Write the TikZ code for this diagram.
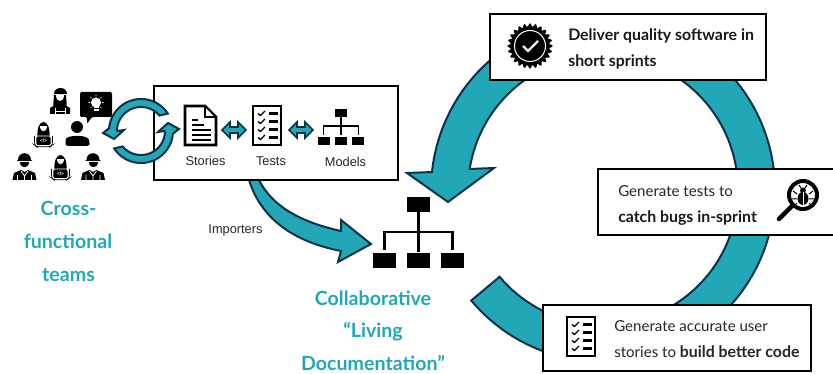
\documentclass[tikz,border=0pt]{standalone}
\usepackage{fontspec}
\setmainfont{Lato}
\newfontfamily\arialf{Liberation Sans}
\definecolor{teal1}{HTML}{22A7B6}
\definecolor{navy1}{HTML}{0C3148}
\tikzset{
  x=0.75pt,y=-0.75pt,
  ring/.style={fill=teal1,draw=navy1,line width=1.5pt,line join=miter},
  ringthin/.style={fill=teal1,draw=navy1,line width=1.5pt,line join=miter},
  panel/.style={draw=black,line width=1.5pt,fill=white,rectangle,inner sep=0pt},
  teamlabel/.style={font=\fontsize{14.7}{15}\selectfont\bfseries,text=teal1,anchor=base},
  smalllabel/.style={font=\arialf\fontsize{9.6}{10}\selectfont,text=black!85,anchor=base},
  boxtext/.style={font=\fontsize{11.3}{12}\selectfont,text=black!85,anchor=base west,inner sep=0pt},
  boxbold/.style={font=\fontsize{11.9}{12}\selectfont\bfseries,text=black!90,anchor=base west,inner sep=0pt},
  wline/.style={draw=white,line width=0.6pt},
  wkr/.pic={
    \fill[black] (-6.5,-3) .. controls (-6.5,-12) and (6.5,-12) .. (6.5,-3) -- (8,-2) -- (-8,-2) -- cycle;
    \fill[black] (-4.5,-1) -- (4.5,-1) .. controls (4.5,6) and (-4.5,6) .. (-4.5,-1) -- cycle;
    \fill[black] (-12,17) -- (-10.5,10) -- (-3.5,7) -- (0,9) -- (3.5,7) -- (10.5,10) -- (12,17) -- cycle;
    \draw[wline] (-7,12) -- (-7,17) (7,12) -- (7,17) (-3.5,8) -- (0,13) -- (3.5,8) (0,13) -- (0,17);
  },
  wmn/.pic={
    \fill[black] (-6,9) .. controls (-7.5,-11) and (7.5,-11) .. (6,9) -- cycle;
    \fill[white] (-3.6,-2) -- (3.6,-2) .. controls (3.6,5) and (-3.6,5) .. (-3.6,-2) -- cycle;
    \filldraw[fill=black,draw=white,line width=0.5pt,rounded corners=1.5pt] (-7.5,8) rectangle (7.5,17.5);
    \draw[black,line width=0.5pt,rounded corners=2pt] (-9,8) -- (-9,17) -- (-7,18.7) -- (7,18.7) -- (9,17) -- (9,8);
    \node[text=white,font=\arialf\fontsize{3.6}{4}\selectfont\bfseries,inner sep=0pt] at (0,13) {</>};
  },
  hatw/.pic={
    \fill[black] (-6.5,9) .. controls (-7,5) and (-6,0) .. (-6,-3) -- (6,-3) .. controls (6,0) and (7,5) .. (6.5,9) -- cycle;
    \fill[black] (-6.5,-4) .. controls (-6.5,-12) and (6.5,-12) .. (6.5,-4) -- cycle;
    \fill[white] (-4,-3) -- (4,-3) .. controls (4,5) and (-4,5) .. (-4,-3) -- cycle;
    \fill[black] (-10,16) -- (-10,10) -- (-4,6.5) -- (4,6.5) -- (10,10) -- (10,16) -- cycle;
    \draw[wline] (-5,10) -- (-5,16) (5,10) -- (5,16) (-5,13) -- (5,13);
  },
  chk/.pic={
    \draw[draw=black,line width=2pt,fill=white] (0,0) rectangle (28,39);
    \foreach \yy in {7.5,15.5,23.5,31.5}{
      \draw[black,line width=0.95pt] (5,\yy) -- (7.5,\yy+2) -- (12,\yy-2.5);
      \fill[black] (16,\yy-1.3) rectangle (24.5,\yy+1.3);
    }
  }
}
\begin{document}
\begin{tikzpicture}
\useasboundingbox (0,0) rectangle (833,374);

% large cycle
\draw[ring]
  plot[domain=140:-174,samples=120] ({603+172*cos(\x)},{190+172*sin(\x)})
  -- (407,173) -- (448,202) -- (494,168) -- (470,169)
  -- plot[domain=-171:140,samples=120] ({603+135*cos(\x)},{190+135*sin(\x)})
  -- cycle;

% importers arrow
\draw[ring] (249,180) .. controls (259,212) and (285,240) .. (341,251)
  -- (338,262) -- (371,244) -- (341,220) -- (341,231)
  .. controls (300,222) and (272,206) .. (259,180) -- cycle;

% panels
\node[panel,minimum width=276*0.75pt,minimum height=66*0.75pt,anchor=north west] (deliver) at (489,13) {};
\draw[draw=black,line width=1.5pt,fill=white] (834,169) -- (598,169) -- (598,235) -- (834,235);
\node[panel,minimum width=268*0.75pt,minimum height=66*0.75pt,anchor=north west] (stories) at (542,304) {};
\node[panel,minimum width=244*0.75pt,minimum height=94*0.75pt,anchor=north west] (artifacts) at (153,85) {};

% small cycle
\draw[ringthin]
  plot[domain=-33:-175,samples=50] ({141+32*cos(\x)},{131+32*sin(\x)})
  -- (103,133) -- (114,139) -- (124,130) -- (117.5,131)
  -- plot[domain=-175:-40,samples=50] ({141+24*cos(\x)},{131+24*sin(\x)}) -- cycle;
\draw[ringthin]
  plot[domain=147:5,samples=50] ({141+32*cos(\x)},{131+32*sin(\x)})
  -- (179,129) -- (168,123) -- (158,132) -- (164.5,131)
  -- plot[domain=5:140,samples=50] ({141+24*cos(\x)},{131+24*sin(\x)}) -- cycle;

% double arrows
\foreach \xa/\xb in {222/246,289/313}{
  \draw[ringthin,line width=1.2pt] (\xa,130) -- (\xa+8,122) -- (\xa+8,127) -- (\xb-8,127) -- (\xb-8,122) -- (\xb,130) -- (\xb-8,138) -- (\xb-8,133) -- (\xa+8,133) -- (\xa+8,138) -- cycle;
}

% document icon
\draw[draw=black,line width=2pt,fill=white,line join=miter] (185,106) -- (205,106) -- (216,117) -- (216,145) -- (185,145) -- cycle;
\fill[black] (204,105) -- (217,118) -- (204,118) -- cycle;
\fill[white] (206,108.5) -- (213.5,116) -- (206,116) -- cycle;
\fill[black] (192,119) rectangle (198,121.5);
\fill[black] (192,124) rectangle (204,126.5);
\foreach \yy in {129,134,139}{\fill[black] (192,\yy) rectangle (211,\yy+2.5);}

% checklist icon
\pic (tests) at (253,106) {chk};

% small hierarchy
\fill[black] (335,109) rectangle (347,117);
\draw[black,line width=1pt] (341,117) -- (341,135) (323.5,135) -- (323.5,126) -- (358.5,126) -- (358.5,135);
\foreach \xa in {318,335,352}{\fill[black] (\xa,137) rectangle (\xa+12,145);}

% labels
\node[smalllabel] (lblstories) at (205.5,165.5) {Stories};
\node[smalllabel] (lbltests) at (271,165.5) {Tests};
\node[smalllabel] (lblmodels) at (345.5,166.5) {Models};
\node[smalllabel] (lblimp) at (235.5,233.5) {Importers};

% big hierarchy
\fill[black] (407,197) rectangle (430,212);
\draw[black,line width=2.2pt,line join=miter] (418.5,212) -- (418.5,252) (384.5,250) -- (384.5,232) -- (452.5,232) -- (452.5,250);
\foreach \xa in {373,407,441}{\fill[black] (\xa,253) rectangle (\xa+23,268);}

% team captions
\node[teamlabel] (t1) at (68.5,216) {Cross-};
\node[teamlabel] (t2) at (68,249) {functional};
\node[teamlabel] (t3) at (68.5,282) {teams};
\node[teamlabel] (c1) at (373,306) {Collaborative};
\node[teamlabel] (c2) at (373,338) {“Living};
\node[teamlabel] (c3) at (373,371) {Documentation”};

% box texts
\node[boxbold] (d1) at (568,41) {Deliver quality software in};
\node[boxbold] (d2) at (568,67) {short sprints};
\node[boxtext] (g1) at (618,197) {Generate tests to};
\node[boxbold] (g2) at (618,223) {catch bugs in-sprint};
\node[boxtext] (s1) at (614,332) {Generate accurate user};
\node[boxtext] (s2) at (614,358) {stories to {\fontsize{11.9}{12}\selectfont\bfseries build better code}};

% badge
\fill[black] plot[domain=0:360,samples=217] ({530+(21+1.6*cos(24*\x))*cos(\x)},{46+(21+1.6*cos(24*\x))*sin(\x)}) -- cycle;
\draw[white,line width=0.75pt] (530,46) circle (15.5);
\draw[white,line width=1.8pt] (523,46) -- (528,51) -- (538,41);

% magnifier with bug
\draw[black,line width=3pt,fill=white] (803,195) circle (14);
\draw[black,line width=3.4pt,line cap=round] (792,206) -- (779,219);
\fill[black] (803,198.5) ellipse (5.5 and 6.5);
\fill[black] (803,190.5) circle (3);
\draw[white,line width=0.5pt] (803,192) -- (803,205);
\draw[black,line width=0.75pt] (797,194) -- (793,191) (797,199) -- (792,199) (797,203) -- (793,207)
  (809,194) -- (813,191) (809,199) -- (814,199) (809,203) -- (813,207)
  (801,188) -- (799,185) (805,188) -- (807,185);

% checklist in box
\pic (storylist) at (567,317) {chk};

% people
\pic (p1) at (60,98) {hatw};
\pic (p2) at (43.5,128) {wmn};
\pic (p3) at (60.5,161) {wmn};
\pic (p4) at (24.5,163) {wkr};
\pic (p5) at (93,163) {wkr};
\fill[black] (77,127) circle (6);
\fill[black,rounded corners=2pt] (65.5,146) -- (65.5,142) .. controls (66,137) and (72,136) .. (77,136) .. controls (82,136) and (88,137) .. (89.5,142) -- (89.5,146) -- cycle;
% bubble
\fill[black,rounded corners=1pt] (80,92) -- (112,92) -- (112,117) -- (92,117) -- (87,124) -- (87,117) -- (80,117) -- cycle;
\fill[white] (96,102.5) circle (5);
\fill[white] (93.5,106) rectangle (98.5,111);
\fill[black] (93,108) rectangle (99,108.6);
\draw[white,line width=0.5pt] (96,95) -- (96,96.5) (88.5,102.5) -- (90,102.5) (102,102.5) -- (103.5,102.5) (90.5,97) -- (91.7,98.2) (101.5,97) -- (100.3,98.2) (90.5,108) -- (91.7,106.8) (101.5,108) -- (100.3,106.8);
\end{tikzpicture}
\end{document}
